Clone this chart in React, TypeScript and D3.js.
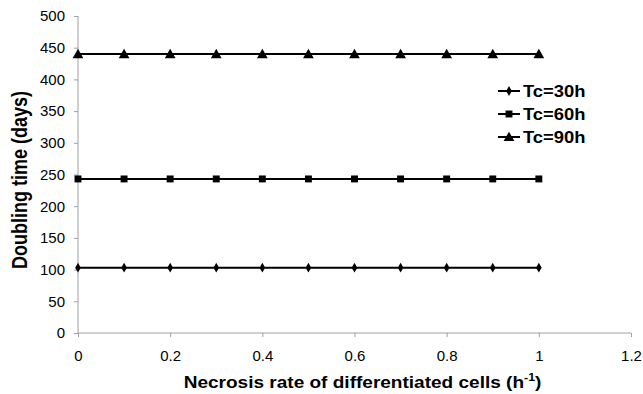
import { useEffect, useRef } from "react";
import * as d3 from "d3";

const rates = [0, 0.1, 0.2, 0.3, 0.4, 0.5, 0.6, 0.7, 0.8, 0.9, 1];
const tc30 = [103, 103, 103, 103, 103, 103, 103, 103, 103, 103, 103];
const tc60 = [243, 243, 243, 243, 243, 243, 243, 243, 243, 243, 243];
const tc90 = [440, 440, 440, 440, 440, 440, 440, 440, 440, 440, 440];
const seriesNames = ["Tc=30h", "Tc=60h", "Tc=90h"];
const xTicks = [0, 0.2, 0.4, 0.6, 0.8, 1, 1.2];
const yTicks = [0, 50, 100, 150, 200, 250, 300, 350, 400, 450, 500];

const W = 643;
const H = 394;

export default function App() {
  const svgRef = useRef<SVGSVGElement>(null);

  useEffect(() => {
    if (!svgRef.current) return;
    const svg = d3.select(svgRef.current);
    svg.selectAll("*").remove();

    const margin = { top: 16, right: 12, bottom: 61, left: 78 };
    const x = d3.scaleLinear().domain([0, 1.2]).range([margin.left, W - margin.right]);
    const y = d3.scaleLinear().domain([0, 500]).range([H - margin.bottom, margin.top]);
    const font = "'Liberation Sans', Arial, sans-serif";
    const axisColor = "#a0a0a0";

    // axes
    const xAxis = svg
      .append("g")
      .attr("transform", `translate(0,${y(0)})`)
      .call(d3.axisBottom(x).tickValues(xTicks).tickSize(4).tickPadding(13).tickFormat(d3.format("")));
    const yAxis = svg
      .append("g")
      .attr("transform", `translate(${x(0)},0)`)
      .call(d3.axisLeft(y).tickValues(yTicks).tickSize(4).tickPadding(9));

    [xAxis, yAxis].forEach((g) => {
      g.select(".domain").attr("stroke", axisColor).attr("stroke-width", 1);
      g.selectAll(".tick line").attr("stroke", axisColor);
      g.selectAll(".tick text")
        .attr("fill", "#000")
        .style("font-family", font)
        .style("font-size", "15px");
    });
    // plain axis lines, no end ticks
    xAxis.select(".domain").attr("d", `M${x(0)},0H${x(1.2)}`);
    yAxis.select(".domain").attr("d", `M0,${y(0)}V${y(500)}`);

    // series
    const allSeries = [tc30, tc60, tc90];
    const line = d3
      .line<number>()
      .x((_, i) => x(rates[i]))
      .y((d) => y(d));

    const symbols = [
      d3.symbol().type(d3.symbolDiamond).size(28),
      d3.symbol().type(d3.symbolSquare).size(48),
      d3.symbol().type(d3.symbolTriangle).size(50),
    ];

    allSeries.forEach((values, si) => {
      svg
        .append("path")
        .attr("d", line(values) ?? "")
        .attr("fill", "none")
        .attr("stroke", "#000")
        .attr("stroke-width", 2);
      svg
        .append("g")
        .selectAll("path")
        .data(values)
        .join("path")
        .attr("transform", (d, i) => `translate(${x(rates[i])},${y(d) + (si === 2 ? 1 : 0)})`)
        .attr("d", symbols[si]() ?? "")
        .attr("fill", "#000");
    });

    // legend
    const legend = svg.append("g").attr("transform", "translate(498,91)");
    seriesNames.forEach((name, i) => {
      const row = legend.append("g").attr("transform", `translate(0,${i * 23})`);
      row
        .append("line")
        .attr("x1", 0)
        .attr("x2", 22)
        .attr("y1", 0)
        .attr("y2", 0)
        .attr("stroke", "#000")
        .attr("stroke-width", 2);
      row
        .append("path")
        .attr("transform", `translate(11,${i === 2 ? 1 : 0})`)
        .attr("d", symbols[i]() ?? "")
        .attr("fill", "#000");
      row
        .append("text")
        .attr("transform", "translate(25,0) scale(1.15,1)")
        .attr("dy", "0.36em")
        .style("font-family", font)
        .style("font-size", "16px")
        .style("font-weight", 700)
        .text(name);
    });

    // axis titles
    const xTitle = svg
      .append("text")
      .attr("transform", `translate(${(x(0) + x(1.2)) / 2 + 8},388) scale(1.12,1)`)
      .attr("text-anchor", "middle")
      .style("font-family", font)
      .style("font-size", "17px")
      .style("font-weight", 700)
      .text("Necrosis rate of differentiated cells (h");
    xTitle.append("tspan").attr("dy", -7).style("font-size", "11px").text("-1");
    xTitle.append("tspan").attr("dy", 7).text(")");

    svg
      .append("text")
      .attr("transform", `translate(27,180) scale(1.2,1) rotate(-90)`)
      .attr("text-anchor", "middle")
      .style("font-family", font)
      .style("font-size", "18px")
      .style("font-weight", 700)
      .text("Doubling time (days)");
  }, []);

  return (
    <svg
      ref={svgRef}
      width={W}
      height={H}
      style={{ position: "absolute", left: 0, top: 0, background: "#fff" }}
    />
  );
}
